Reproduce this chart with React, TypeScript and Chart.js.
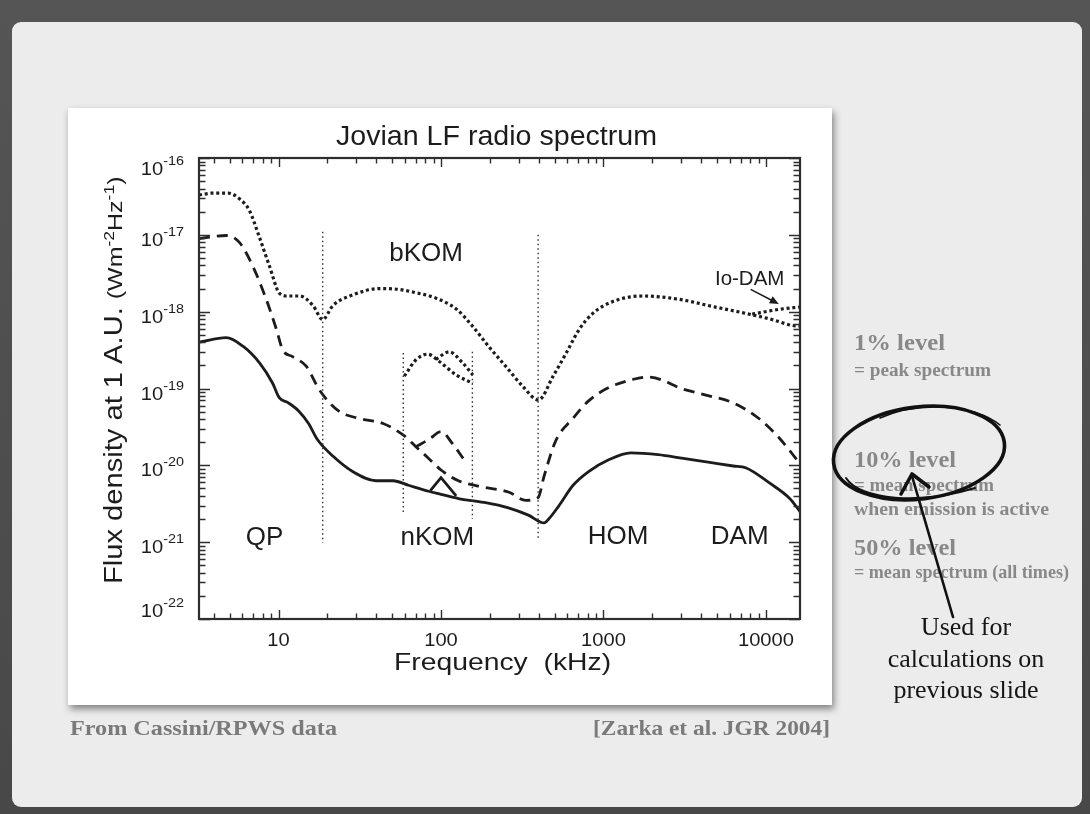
import React, { useEffect, useRef } from "react";
import { Chart, registerables } from "chart.js";

Chart.register(...registerables);

const SANS = "'Liberation Sans', Arial, Helvetica, sans-serif";
const SERIF = "'Liberation Serif', 'Times New Roman', serif";
const INK = "#1c1c1c";

// Axis limits: frequency in kHz, flux density in W m^-2 Hz^-1 at 1 AU
const freqRange = [3.24, 16200];
const fluxRange = [1e-22, 1e-16];
const freqTickValues = [10, 100, 1000, 10000];
const freqTickLabels = ["10", "100", "1000", "10000"];
const fluxTickExponents = [-16, -17, -18, -19, -20, -21, -22];

// 1% level = peak spectrum (dotted)
const peakFreq = [3.24, 4.0, 4.9, 5.8, 6.6, 7.6, 8.8, 10.1, 11.2, 13.5, 16.3, 18.7, 21.6, 28.6, 41.7, 55, 67, 93, 125, 156, 197, 250, 318, 398, 490, 590, 710, 860, 1135, 1735, 2910, 4680, 7500, 10900, 14600, 16200];
const peakFlux = [3.3e-17, 3.5e-17, 3.5e-17, 2.9e-17, 2.1e-17, 9.5e-18, 3.9e-18, 1.75e-18, 1.6e-18, 1.6e-18, 1.2e-18, 7.9e-19, 1.2e-18, 1.65e-18, 2.0e-18, 1.95e-18, 1.8e-18, 1.5e-18, 1.07e-18, 6.5e-19, 3.5e-19, 1.95e-19, 1.07e-19, 7.1e-20, 1.45e-19, 2.9e-19, 5.9e-19, 9.5e-19, 1.35e-18, 1.6e-18, 1.45e-18, 1.17e-18, 9.5e-19, 7.9e-19, 6.6e-19, 6.5e-19];

// Io-DAM branch of the peak spectrum
const ioDamFreq = [8230, 12000, 16200];
const ioDamFlux = [9.3e-19, 1.07e-18, 1.15e-18];

// nKOM peaks of the peak spectrum (two dotted bumps)
const nkomPeakAFreq = [59.5, 70, 82.8, 97.6, 124, 157];
const nkomPeakAFlux = [1.45e-19, 2.35e-19, 2.8e-19, 2.25e-19, 1.5e-19, 1.17e-19];
const nkomPeakBFreq = [93, 112.5, 136, 157];
const nkomPeakBFlux = [2.4e-19, 3.0e-19, 2.15e-19, 1.5e-19];

// 10% level = mean spectrum when emission is active (dashed)
const activeFreq = [3.24, 4.0, 4.77, 5.76, 6.95, 8.4, 9.7, 10.6, 12.2, 14.8, 17.9, 23.4, 31, 44, 59, 70, 84, 100, 128, 183, 260, 333, 396, 430, 509, 650, 810, 1070, 1530, 1900, 3100, 4400, 6300, 9000, 12000, 16200];
const activeFlux = [8.9e-18, 9.5e-18, 9.8e-18, 7.9e-18, 3.9e-18, 1.45e-18, 5.9e-19, 3.2e-19, 2.6e-19, 1.95e-19, 9.5e-20, 5.1e-20, 4.1e-20, 3.5e-20, 2.45e-20, 1.75e-20, 1.23e-20, 8.7e-21, 6.3e-21, 5.2e-21, 4.5e-21, 3.5e-21, 3.8e-21, 7.1e-21, 2.1e-20, 4.1e-20, 6.9e-20, 1.02e-19, 1.32e-19, 1.41e-19, 9.8e-20, 8.1e-20, 6.5e-20, 4.1e-20, 2.3e-20, 1.05e-20];

// nKOM bump of the 10% level
const activeBumpFreq = [70, 85, 100, 118, 137];
const activeBumpFlux = [1.75e-20, 2.2e-20, 2.75e-20, 1.9e-20, 1.23e-20];

// 50% level = mean spectrum over all times (solid)
const meanFreq = [3.24, 4.77, 6.04, 7.64, 9.2, 10.1, 11.5, 13.3, 15.3, 17.4, 21.6, 28.6, 39.8, 50.8, 63, 84, 100, 128, 183, 260, 345, 431, 460, 530, 650, 810, 1070, 1470, 2170, 3100, 4400, 6300, 7500, 10500, 14000, 16200];
const meanFlux = [4.0e-19, 4.6e-19, 3.55e-19, 2.15e-19, 1.17e-19, 7.6e-20, 6.5e-20, 5.1e-20, 3.5e-20, 2.15e-20, 1.32e-20, 8.3e-21, 6.3e-21, 6.3e-21, 5.5e-21, 4.6e-21, 4.2e-21, 3.7e-21, 3.3e-21, 2.8e-21, 2.25e-21, 1.78e-21, 2.0e-21, 2.95e-21, 5.5e-21, 8.3e-21, 1.17e-20, 1.45e-20, 1.38e-20, 1.23e-20, 1.1e-20, 9.8e-21, 9.3e-21, 5.9e-21, 3.7e-21, 2.5e-21];

// nKOM bump of the 50% level
const meanBumpFreq = [86, 100, 124];
const meanBumpFlux = [4.7e-21, 6.9e-21, 4.0e-21];

// Component boundaries (vertical dotted lines)
const boundaryFreq = [18.7, 58.6, 156, 396];
const boundaryTop = [1.1e-17, 2.9e-19, 3.0e-19, 1.0e-17];
const boundaryBottom = [9.8e-22, 2.35e-21, 2.0e-21, 1.12e-21];

// Emission component names, placed at (frequency, flux) of the text centre
const regionNames = ["QP", "bKOM", "nKOM", "HOM", "DAM", "Io-DAM"];
const regionFreq = [8.2, 81, 95, 1230, 6890, 7940];
const regionFlux = [1.2e-21, 6.0e-18, 1.23e-21, 1.26e-21, 1.26e-21, 2.8e-18];

// Io-DAM pointer, tail then head
const ioArrowFreq = [8050, 12000];
const ioArrowFlux = [1.95e-18, 1.26e-18];

const zip = (xs: number[], ys: number[]) => xs.map((x, i) => ({ x, y: ys[i] }));

function wideText(
  ctx: CanvasRenderingContext2D,
  text: string,
  x: number,
  y: number,
  font: string,
  sx: number,
  align: "left" | "center" | "right"
) {
  ctx.save();
  ctx.font = font;
  const w = ctx.measureText(text).width * sx;
  const left = align === "center" ? x - w / 2 : align === "right" ? x - w : x;
  ctx.translate(left, y);
  ctx.scale(sx, 1);
  ctx.textAlign = "left";
  ctx.textBaseline = "alphabetic";
  ctx.fillText(text, 0, 0);
  ctx.restore();
  return w;
}

const axesPlugin = {
  id: "spectrumAxes",
  afterDatasetsDraw(chart: any) {
    const { ctx, chartArea: a } = chart;
    const xs = chart.scales.x;
    const ys = chart.scales.y;
    ctx.save();
    ctx.fillStyle = INK;
    ctx.strokeStyle = "#2e2e2e";

    // plot frame
    ctx.lineWidth = 2.2;
    ctx.strokeRect(a.left, a.top, a.right - a.left, a.bottom - a.top);

    // frequency ticks, bottom and top, pointing inward
    ctx.lineWidth = 1.4;
    ctx.beginPath();
    for (let e = 0; e <= 4; e++) {
      for (let m = 1; m <= 9; m++) {
        const v = m * Math.pow(10, e);
        if (v < freqRange[0] || v > freqRange[1]) continue;
        const px = Math.round(xs.getPixelForValue(v)) + 0.5;
        const len = m === 1 ? 9 : 5.5;
        ctx.moveTo(px, a.bottom);
        ctx.lineTo(px, a.bottom - len);
        ctx.moveTo(px, a.top);
        ctx.lineTo(px, a.top + len);
      }
    }
    // flux ticks, left and right
    for (let e = -22; e <= -16; e++) {
      for (let m = 1; m <= 9; m++) {
        const v = m * Math.pow(10, e);
        if (v < fluxRange[0] * 0.999 || v > fluxRange[1] * 1.001) continue;
        const py = Math.round(ys.getPixelForValue(v)) + 0.5;
        const len = m === 1 ? 11 : 6.5;
        ctx.moveTo(a.left, py);
        ctx.lineTo(a.left + len, py);
        ctx.moveTo(a.right, py);
        ctx.lineTo(a.right - len, py);
      }
    }
    ctx.stroke();

    // frequency tick labels
    freqTickValues.forEach((v, i) => {
      wideText(ctx, freqTickLabels[i], xs.getPixelForValue(v), a.bottom + 27, `17.5px ${SANS}`, 1.15, "center");
    });

    // flux tick labels as 10 with a raised exponent
    fluxTickExponents.forEach((e, i) => {
      const py = ys.getPixelForValue(Math.pow(10, e));
      let baseOff = 11;
      let expOff = 1;
      if (i === 0) { baseOff = 16.5; expOff = 6.5; }
      if (i === fluxTickExponents.length - 1) { baseOff = -2.5; expOff = -12; }
      const right = a.left - 15;
      const ew = wideText(ctx, String(e), right, py + expOff, `12.5px ${SANS}`, 1.15, "right");
      wideText(ctx, "10", right - ew, py + baseOff, `17.5px ${SANS}`, 1.15, "right");
    });

    // chart title
    wideText(ctx, "Jovian LF radio spectrum", (a.left + a.right) / 2 - 3, a.top - 13, `27.5px ${SANS}`, 1.04, "center");

    // x-axis title
    wideText(ctx, "Frequency  (kHz)", (a.left + a.right) / 2 + 3, a.bottom + 51, `24px ${SANS}`, 1.18, "center");

    // y-axis title, rotated, with superscripted units
    ctx.save();
    ctx.translate(a.left - 77, a.bottom - 35);
    ctx.rotate(-Math.PI / 2);
    let u = 0;
    u += wideText(ctx, "Flux density at 1 A.U.", u, 0, `26px ${SANS}`, 1.12, "left");
    u += 8;
    u += wideText(ctx, "(Wm", u, 0, `20px ${SANS}`, 1.25, "left");
    u += wideText(ctx, "-2", u, -8, `14px ${SANS}`, 1.25, "left");
    u += wideText(ctx, "Hz", u, 0, `20px ${SANS}`, 1.25, "left");
    u += wideText(ctx, "-1", u, -8, `14px ${SANS}`, 1.25, "left");
    wideText(ctx, ")", u, 0, `20px ${SANS}`, 1.25, "left");
    ctx.restore();

    // component names
    regionNames.forEach((name, i) => {
      const px = xs.getPixelForValue(regionFreq[i]);
      const py = ys.getPixelForValue(regionFlux[i]);
      const size = name === "Io-DAM" ? 20.5 : 26;
      wideText(ctx, name, px, py + size * 0.36, `${size}px ${SANS}`, 1.0, "center");
    });

    // Io-DAM pointer
    const x0 = xs.getPixelForValue(ioArrowFreq[0]);
    const y0 = ys.getPixelForValue(ioArrowFlux[0]);
    const x1 = xs.getPixelForValue(ioArrowFreq[1]);
    const y1 = ys.getPixelForValue(ioArrowFlux[1]);
    const ang = Math.atan2(y1 - y0, x1 - x0);
    ctx.lineWidth = 1.6;
    ctx.strokeStyle = INK;
    ctx.beginPath();
    ctx.moveTo(x0, y0);
    ctx.lineTo(x1 - 6 * Math.cos(ang), y1 - 6 * Math.sin(ang));
    ctx.stroke();
    ctx.beginPath();
    ctx.moveTo(x1, y1);
    ctx.lineTo(x1 - 9 * Math.cos(ang) + 4 * Math.sin(ang), y1 - 9 * Math.sin(ang) - 4 * Math.cos(ang));
    ctx.lineTo(x1 - 9 * Math.cos(ang) - 4 * Math.sin(ang), y1 - 9 * Math.sin(ang) + 4 * Math.cos(ang));
    ctx.closePath();
    ctx.fill();

    ctx.restore();
  },
};

function SpectrumChart() {
  const ref = useRef<HTMLCanvasElement>(null);
  useEffect(() => {
    const dotted = { borderColor: INK, borderWidth: 3.2, borderDash: [3, 2.8], cubicInterpolationMode: "monotone" };
    const dashed = { borderColor: INK, borderWidth: 2.8, borderDash: [11, 7], cubicInterpolationMode: "monotone" };
    const solid = { borderColor: INK, borderWidth: 2.8, cubicInterpolationMode: "monotone" };
    const common = { showLine: true, pointRadius: 0, fill: false, borderCapStyle: "butt" };

    const boundaries = boundaryFreq.map((f, i) => ({
      ...common,
      label: `boundary ${i}`,
      data: [{ x: f, y: boundaryTop[i] }, { x: f, y: boundaryBottom[i] }],
      borderColor: "#333",
      borderWidth: 1.4,
      borderDash: [1.5, 3],
      tension: 0,
    }));

    const chart = new Chart(ref.current as HTMLCanvasElement, {
      type: "scatter",
      data: {
        datasets: [
          ...boundaries,
          { ...common, ...dotted, label: "1% level", data: zip(peakFreq, peakFlux) },
          { ...common, ...dotted, label: "Io-DAM", data: zip(ioDamFreq, ioDamFlux) },
          { ...common, ...dotted, label: "nKOM peak a", data: zip(nkomPeakAFreq, nkomPeakAFlux) },
          { ...common, ...dotted, label: "nKOM peak b", data: zip(nkomPeakBFreq, nkomPeakBFlux) },
          { ...common, ...dashed, label: "10% level", data: zip(activeFreq, activeFlux) },
          { ...common, ...dashed, label: "10% nKOM", data: zip(activeBumpFreq, activeBumpFlux) },
          { ...common, ...solid, label: "50% level", data: zip(meanFreq, meanFlux) },
          { ...common, ...solid, label: "50% nKOM", data: zip(meanBumpFreq, meanBumpFlux), cubicInterpolationMode: "default", tension: 0 },
        ] as any,
      },
      options: {
        responsive: false,
        animation: false,
        events: [],
        layout: { padding: { left: 131, right: 32, top: 50, bottom: 86 } },
        plugins: {
          legend: { display: false },
          title: { display: false },
          tooltip: { enabled: false },
        },
        scales: {
          x: { type: "logarithmic", min: freqRange[0], max: freqRange[1], display: false },
          y: { type: "logarithmic", min: fluxRange[0], max: fluxRange[1], display: false },
        },
      },
      plugins: [axesPlugin],
    });
    return () => chart.destroy();
  }, []);
  return <canvas ref={ref} width={764} height={597} style={{ position: "absolute", left: 0, top: 0, width: 764, height: 597 }} />;
}

const grayText = "#888888";

export default function App() {
  return (
    <div
      style={{
        position: "absolute",
        left: 0,
        top: 0,
        width: 1090,
        height: 814,
        overflow: "hidden",
        background: "linear-gradient(180deg, #555555 0%, #484848 100%)",
      }}
    >
      <div
        style={{
          position: "absolute",
          left: 12,
          top: 22,
          width: 1070,
          height: 785,
          borderRadius: 9,
          background: "#ececec",
        }}
      />
      <div
        style={{
          position: "absolute",
          left: 68,
          top: 108,
          width: 764,
          height: 597,
          background: "#ffffff",
          boxShadow: "2px 4px 7px rgba(0,0,0,0.45)",
        }}
      >
        <SpectrumChart />
      </div>
      <svg width={1090} height={814} style={{ position: "absolute", left: 0, top: 0 }}>
        <g fontFamily={SERIF} fontWeight="bold" fill={grayText}>
          <text x={854} y={350} fontSize={22.5} textLength={91} lengthAdjust="spacingAndGlyphs">1% level</text>
          <text x={854} y={376} fontSize={18} textLength={137} lengthAdjust="spacingAndGlyphs">= peak spectrum</text>
          <text x={854} y={467} fontSize={22.5} textLength={102} lengthAdjust="spacingAndGlyphs">10% level</text>
          <text x={854} y={491} fontSize={18} textLength={140} lengthAdjust="spacingAndGlyphs">= mean spectrum</text>
          <text x={854} y={515} fontSize={18} textLength={195} lengthAdjust="spacingAndGlyphs">when emission is active</text>
          <text x={854} y={555} fontSize={22.5} textLength={102} lengthAdjust="spacingAndGlyphs">50% level</text>
          <text x={854} y={578} fontSize={18} textLength={215} lengthAdjust="spacingAndGlyphs">= mean spectrum (all times)</text>
          <text x={70} y={735} fontSize={22} fill="#7a7a7a" textLength={267} lengthAdjust="spacingAndGlyphs">From Cassini/RPWS data</text>
          <text x={593} y={735} fontSize={22} fill="#7a7a7a" textLength={237} lengthAdjust="spacingAndGlyphs">[Zarka et al. JGR 2004]</text>
        </g>
        <g fontFamily={SERIF} fill="#151515" textAnchor="middle" fontSize={26}>
          <text x={966} y={635}>Used for</text>
          <text x={966} y={667}>calculations on</text>
          <text x={966} y={698}>previous slide</text>
        </g>
        <g stroke="#111" fill="none" strokeLinecap="round" strokeLinejoin="round">
          <ellipse cx={919} cy={453} rx={86} ry={46} transform="rotate(-7 919 453)" strokeWidth={3.6} />
          <path d="M 846 478 C 860 500, 920 505, 975 488" strokeWidth={2} />
          <path d="M 880 418 C 920 400, 975 405, 1000 425" strokeWidth={1.6} />
          <line x1={953} y1={617} x2={912} y2={476} strokeWidth={2.6} />
          <polyline points="901,494 912,474 929,487" strokeWidth={3.6} />
        </g>
      </svg>
    </div>
  );
}
